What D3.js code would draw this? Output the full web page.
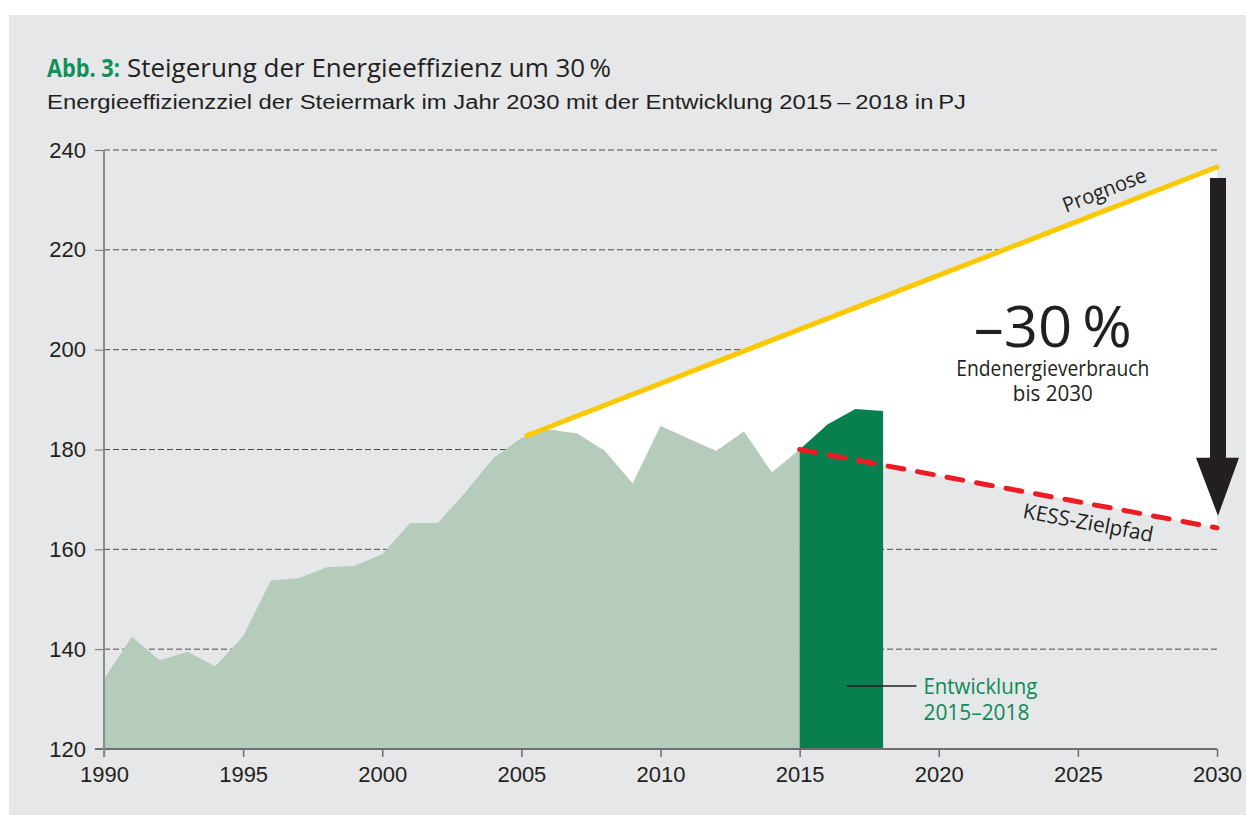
<!DOCTYPE html>
<html lang="de">
<head>
<meta charset="utf-8">
<script src="https://cdn.jsdelivr.net/npm/d3@7"></script>
<style>
  html, body { margin: 0; padding: 0; background: #fff; }
  svg { display: block; }
</style>
</head>
<body>
<div class="container"></div>
<script>
// final energy consumption in Styria, PJ
const years = [1990, 1991, 1992, 1993, 1994, 1995, 1996, 1997, 1998, 1999,
  2000, 2001, 2002, 2003, 2004, 2005, 2006, 2007, 2008, 2009,
  2010, 2011, 2012, 2013, 2014, 2015, 2016, 2017, 2018];
const consumption = [134.0, 142.5, 137.8, 139.5, 136.6, 142.6, 153.8, 154.2, 156.4, 156.7,
  159.0, 165.3, 165.3, 171.5, 178.3, 182.3, 184.0, 183.2, 179.7, 173.2,
  184.7, 182.2, 179.7, 183.6, 175.4, 180.0, 185.0, 188.1, 187.7];

// forecast and target path, start and end points
const prognoseYears = [2005.2, 2030];
const prognoseValues = [182.8, 236.6];
const kessYears = [2015, 2030];
const kessValues = [180.0, 164.3];

// axis ticks
const xTicks = [1990, 1995, 2000, 2005, 2010, 2015, 2020, 2025, 2030];
const yTicks = [120, 140, 160, 180, 200, 220, 240];

const W = 1246, H = 815;
const margin = { top: 150, right: 29, bottom: 66, left: 104 };
const width = W - margin.left - margin.right;
const height = H - margin.top - margin.bottom;

const sansCond = "'Open Sans', 'DejaVu Sans', sans-serif";
const sansAx = "'Liberation Sans', Arial, sans-serif";

const svg = d3.select(".container")
  .append("svg")
  .attr("width", W)
  .attr("height", H);

// grey panel
svg.append("rect")
  .attr("x", 9).attr("y", 15)
  .attr("width", W - 9).attr("height", H - 15)
  .attr("fill", "#e6e7e9");

// title and subtitle
const title = svg.append("text")
  .attr("x", 47).attr("y", 77)
  .style("font-family", sansCond)
  .style("font-size", "25px");
title.append("tspan")
  .attr("fill", "#10905b")
  .attr("font-weight", "bold")
  .attr("textLength", 73)
  .attr("lengthAdjust", "spacingAndGlyphs")
  .text("Abb. 3:");
title.append("tspan")
  .attr("x", 127)
  .attr("fill", "#231f20")
  .attr("textLength", 484)
  .attr("lengthAdjust", "spacingAndGlyphs")
  .text("Steigerung der Energieeffizienz um 30\u2009%");

svg.append("text")
  .attr("x", 47).attr("y", 109)
  .attr("fill", "#231f20")
  .style("font-family", sansAx)
  .style("font-size", "20px")
  .attr("textLength", 919)
  .attr("lengthAdjust", "spacingAndGlyphs")
  .text("Energieeffizienzziel der Steiermark im Jahr 2030 mit der Entwicklung 2015\u2009\u2013\u20092018 in\u2009PJ");

const g = svg.append("g")
  .attr("transform", `translate(${margin.left}, ${margin.top})`);

// scales
const xScale = d3.scaleLinear()
  .domain([1990, 2030])
  .range([0, width]);

const yScale = d3.scaleLinear()
  .domain([120, 240])
  .range([height, 0]);

// dashed gridlines
g.append("g")
  .selectAll("line")
  .data(yTicks.filter(d => d > 120))
  .join("line")
  .attr("x1", 0).attr("x2", width)
  .attr("y1", d => yScale(d)).attr("y2", d => yScale(d))
  .attr("stroke", "#4d4d4f")
  .attr("stroke-width", 1)
  .attr("stroke-dasharray", "6 3");

// y axis
const yAxis = d3.axisLeft(yScale)
  .tickValues(yTicks)
  .tickSize(9)
  .tickPadding(9);

g.append("g")
  .attr("id", "y-axis")
  .call(yAxis)
  .call(s => s.select(".domain").remove())
  .call(s => s.selectAll(".tick line").attr("stroke", "#6d6e70"))
  .call(s => s.selectAll("text")
    .attr("fill", "#231f20")
    .style("font-family", sansAx)
    .style("font-size", "22px"));

// straight lines for forecast and target path
const prognose = yr => d3.scaleLinear().domain(prognoseYears).range(prognoseValues)(yr);
const kess = yr => d3.scaleLinear().domain(kessYears).range(kessValues)(yr);

// white wedge: forecast on top, actual values 2005-2015 and target path below
const lower = years
  .map((yr, i) => [yr, consumption[i]])
  .filter(d => d[0] >= 2005 && d[0] <= 2015);
const wedgePts = [
  [prognoseYears[0], prognose(prognoseYears[0])],
  [2030, prognose(2030)],
  [2030, kess(2030)],
  [2015, kess(2015)],
  ...lower.reverse()
];

g.append("path")
  .attr("d", d3.line().x(d => xScale(d[0])).y(d => yScale(d[1]))(wedgePts) + "Z")
  .attr("fill", "#ffffff");

// area 1990-2015 (light) and 2015-2018 (dark)
const area = d3.area()
  .x(d => xScale(d.year))
  .y0(yScale(120))
  .y1(d => yScale(d.value));

const rows = years.map((yr, i) => ({ year: yr, value: consumption[i] }));

g.append("path")
  .datum(rows.filter(d => d.year <= 2015))
  .attr("d", area)
  .attr("fill", "#b5ccbc");

g.append("path")
  .datum(rows.filter(d => d.year >= 2015))
  .attr("d", area)
  .attr("fill", "#077f4f");

// x axis
const xAxis = d3.axisBottom(xScale)
  .tickValues(xTicks)
  .tickFormat(d3.format("d"))
  .tickSize(8)
  .tickPadding(9);

g.append("g")
  .attr("id", "x-axis")
  .attr("transform", `translate(0, ${height})`)
  .call(xAxis)
  .call(s => s.select(".domain")
    .attr("d", `M-9,0H${width}`)
    .attr("stroke", "#6d6e70")
    .attr("stroke-width", 2))
  .call(s => s.selectAll(".tick line").attr("stroke", "#6d6e70").attr("stroke-width", 1.5))
  .call(s => s.selectAll("text")
    .attr("fill", "#231f20")
    .style("font-family", sansAx)
    .style("font-size", "22px"));

// vertical y axis line
g.append("line")
  .attr("x1", 0).attr("x2", 0)
  .attr("y1", 0).attr("y2", height + 8)
  .attr("stroke", "#8a8b8d")
  .attr("stroke-width", 2);

// forecast line
g.append("line")
  .attr("x1", xScale(prognoseYears[0])).attr("y1", yScale(prognoseValues[0]))
  .attr("x2", xScale(prognoseYears[1])).attr("y2", yScale(prognoseValues[1]))
  .attr("stroke", "#fcc800")
  .attr("stroke-width", 5)
  .attr("stroke-linecap", "round");

// KESS target path
g.append("line")
  .attr("x1", xScale(kessYears[0])).attr("y1", yScale(kessValues[0]))
  .attr("x2", xScale(kessYears[1])).attr("y2", yScale(kessValues[1]))
  .attr("stroke", "#ec1c24")
  .attr("stroke-width", 5)
  .attr("stroke-dasharray", "16 14")
  .attr("stroke-linecap", "round");

// line labels, rotated along their lines
function lineLabel(text, yrs, vals, atYear, offset, len) {
  const x1 = xScale(yrs[0]), y1 = yScale(vals[0]);
  const x2 = xScale(yrs[1]), y2 = yScale(vals[1]);
  const angle = Math.atan2(y2 - y1, x2 - x1) * 180 / Math.PI;
  const t = (atYear - yrs[0]) / (yrs[1] - yrs[0]);
  const px = x1 + t * (x2 - x1), py = y1 + t * (y2 - y1);
  g.append("text")
    .attr("transform", `translate(${px}, ${py}) rotate(${angle}) translate(0, ${offset})`)
    .attr("text-anchor", "middle")
    .attr("fill", "#231f20")
    .style("font-family", sansCond)
    .style("font-size", "21px")
    .attr("textLength", len)
    .attr("lengthAdjust", "spacingAndGlyphs")
    .text(text);
}
lineLabel("Prognose", prognoseYears, prognoseValues, 2026.2, -12, 88);
lineLabel("KESS-Zielpfad", kessYears, kessValues, 2025.5, 26, 132);

// arrow from forecast down to target
const ax = xScale(2030) + 1;
const aTop = yScale(prognose(2030)) + 11;
const aTip = yScale(kess(2030)) - 12;
const headH = 58;
g.append("path")
  .attr("d", `M${ax - 8},${aTop}H${ax + 8}V${aTip - headH}H${ax + 21}L${ax},${aTip}L${ax - 22},${aTip - headH}H${ax - 8}Z`)
  .attr("fill", "#231f20");

// -30 % annotation
const noteX = xScale(2024.1);
const noteY = yScale(200.5);
g.append("text")
  .attr("x", noteX).attr("y", noteY)
  .attr("text-anchor", "middle")
  .attr("fill", "#231f20")
  .style("font-family", sansCond)
  .style("font-size", "56px")
  .attr("textLength", 158)
  .attr("lengthAdjust", "spacingAndGlyphs")
  .text("\u201330\u2009%");

g.append("text")
  .attr("x", noteX).attr("y", noteY + 29)
  .attr("text-anchor", "middle")
  .attr("fill", "#231f20")
  .style("font-family", sansCond)
  .style("font-size", "21px")
  .attr("textLength", 193)
  .attr("lengthAdjust", "spacingAndGlyphs")
  .text("Endenergieverbrauch");

g.append("text")
  .attr("x", noteX).attr("y", noteY + 54)
  .attr("text-anchor", "middle")
  .attr("fill", "#231f20")
  .style("font-family", sansCond)
  .style("font-size", "21px")
  .attr("textLength", 80)
  .attr("lengthAdjust", "spacingAndGlyphs")
  .text("bis 2030");

// label for the 2015-2018 development
const legY = yScale(132.6);
g.append("line")
  .attr("x1", xScale(2016.7)).attr("x2", xScale(2019.2))
  .attr("y1", legY).attr("y2", legY)
  .attr("stroke", "#231f20")
  .attr("stroke-width", 1.5);

const leg = g.append("text")
  .attr("fill", "#0b8a58")
  .style("font-family", sansCond)
  .style("font-size", "21px");
leg.append("tspan")
  .attr("x", xScale(2019.45)).attr("y", legY + 8)
  .attr("textLength", 114)
  .attr("lengthAdjust", "spacingAndGlyphs")
  .text("Entwicklung");
leg.append("tspan")
  .attr("x", xScale(2019.45)).attr("y", legY + 34)
  .attr("textLength", 106)
  .attr("lengthAdjust", "spacingAndGlyphs")
  .text("2015\u20132018");
</script>
</body>
</html>
